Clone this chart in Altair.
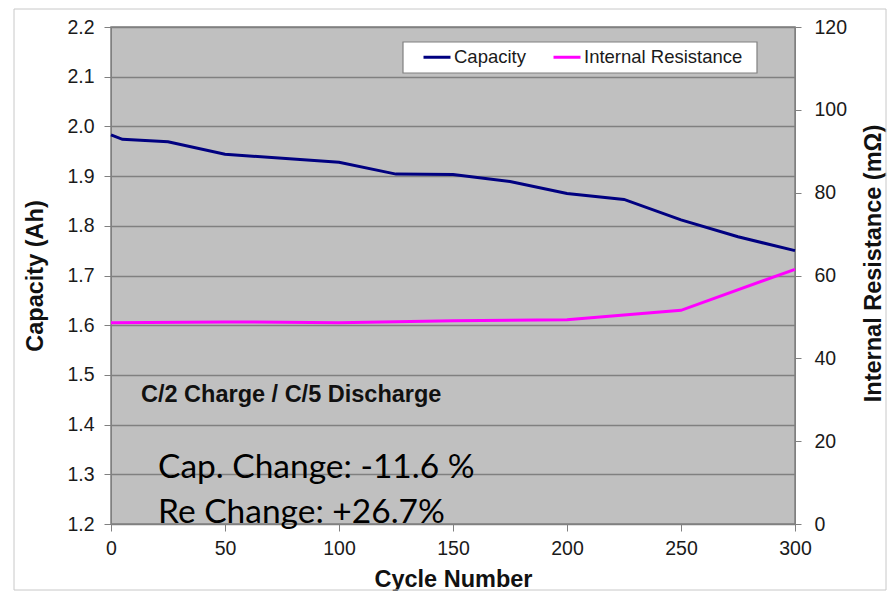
import altair as alt
import pandas as pd

# ---- data ----
cycles_cap = [0, 5, 25, 50, 100, 125, 150, 175, 200, 225, 250, 275, 300]
capacity = [1.983, 1.974, 1.969, 1.944, 1.928, 1.904, 1.903, 1.889, 1.865, 1.853, 1.812, 1.778, 1.750]
cycles_res = [0, 50, 100, 150, 200, 250, 300]
resistance = [48.6, 48.8, 48.6, 49.1, 49.3, 51.6, 61.5]

series_names = ["Capacity", "Internal Resistance"]
series_colors = ["#000080", "#FF00FF"]

x_ticks = [0, 50, 100, 150, 200, 250, 300]
cap_ticks = [1.2, 1.3, 1.4, 1.5, 1.6, 1.7, 1.8, 1.9, 2.0, 2.1, 2.2]
res_ticks = [0, 20, 40, 60, 80, 100, 120]

condition_label = ["C/2 Charge / C/5 Discharge"]
note_cap = ["Cap. Change: -11.6 %"]
note_re = ["Re Change: +26.7%"]

cap_df = pd.DataFrame({"cycle": cycles_cap, "value": capacity, "series": series_names[0]})
res_df = pd.DataFrame({"cycle": cycles_res, "value": resistance, "series": series_names[1]})

FONT = "Liberation Sans"
TICK_FS = 19.5
TITLE_FS = 23.5

x_enc = alt.X(
    "cycle:Q",
    scale=alt.Scale(domain=[0, 300], nice=False, zero=False),
    axis=alt.Axis(
        values=x_ticks, grid=False, title="Cycle Number", labelFlush=False,
        labelFontSize=TICK_FS, labelColor="#1a1a1a", labelPadding=8,
        tickSize=7, tickColor="#808080", domainColor="#808080",
        titleFontSize=TITLE_FS, titleFontWeight="bold", titleColor="#111111", titlePadding=10,
    ),
)

color_enc = alt.Color(
    "series:N",
    scale=alt.Scale(domain=series_names, range=series_colors),
    legend=alt.Legend(
        title=None, orient="none", legendX=311, legendY=15, direction="horizontal",
        symbolType="stroke", symbolStrokeWidth=3, symbolSize=729,
        labelFontSize=18.5, labelFont=FONT, labelColor="#1a1a1a", labelOffset=2,
        columnPadding=21, padding=0,
    ),
)

cap_line = alt.Chart(cap_df).mark_line(strokeWidth=3).encode(
    x=x_enc,
    y=alt.Y(
        "value:Q",
        scale=alt.Scale(domain=[1.2, 2.2], nice=False, zero=False),
        axis=alt.Axis(
            values=cap_ticks, format=".1f", title="Capacity (Ah)", labelFlush=False,
            grid=True, gridColor="#808080", gridWidth=1.5,
            labelFontSize=TICK_FS, labelColor="#1a1a1a", labelPadding=10,
            tickSize=7, tickColor="#808080", domainColor="#808080",
            titleFontSize=TITLE_FS, titleFontWeight="bold", titleColor="#111111", titlePadding=19,
        ),
    ),
    color=color_enc,
)

res_line = alt.Chart(res_df).mark_line(strokeWidth=3).encode(
    x=x_enc,
    y=alt.Y(
        "value:Q",
        scale=alt.Scale(domain=[0, 120], nice=False, zero=True),
        axis=alt.Axis(
            orient="right", values=res_ticks, format="d", title="Internal Resistance (mΩ)",
            labelFlush=False,
            grid=False, labelFontSize=TICK_FS, labelColor="#1a1a1a", labelPadding=13,
            tickSize=6, tickColor="#808080", domainColor="#808080",
            titleFontSize=TITLE_FS, titleFontWeight="bold", titleColor="#111111",
            titleAngle=270, titleBaseline="top", titleAlign="center",
            titleX=66, titleY=236,
        ),
    ),
    color=color_enc,
)

one = pd.DataFrame({"k": [0]})

legend_box = alt.Chart(one).mark_rect(fill="white", stroke="#808080", strokeWidth=1.2).encode(
    x=alt.value(292), x2=alt.value(646), y=alt.value(15), y2=alt.value(46)
)

outer_border = alt.Chart(one).mark_rect(fill=None, stroke="#c8c8c8", strokeWidth=1).encode(
    x=alt.value(-97), x2=alt.value(775), y=alt.value(-18), y2=alt.value(563)
)

cond_text = alt.Chart(pd.DataFrame({"t": condition_label})).mark_text(
    align="left", baseline="alphabetic", font=FONT, fontSize=TITLE_FS, fontWeight="bold", color="#111111"
).encode(text="t:N", x=alt.value(30), y=alt.value(375))

note1 = alt.Chart(pd.DataFrame({"t": note_cap})).mark_text(
    align="left", baseline="alphabetic", font="Lato", fontSize=33.5, color="#000000"
).encode(text="t:N", x=alt.value(47), y=alt.value(451))

note2 = alt.Chart(pd.DataFrame({"t": note_re})).mark_text(
    align="left", baseline="alphabetic", font="Lato", fontSize=33.5, color="#000000"
).encode(text="t:N", x=alt.value(47), y=alt.value(496))

chart = alt.layer(
    outer_border, legend_box, cap_line, res_line, cond_text, note1, note2
).resolve_scale(y="independent").properties(
    width=684, height=497,
    autosize=alt.AutoSizeParams(type="none"),
    padding={"left": 103, "top": 19, "right": 92, "bottom": 67},
).configure(font=FONT, background="white").configure_view(
    fill="#C0C0C0", stroke="#808080", strokeWidth=1.5
)

chart.save("out.html", embed_options={"renderer": "svg", "actions": False})
